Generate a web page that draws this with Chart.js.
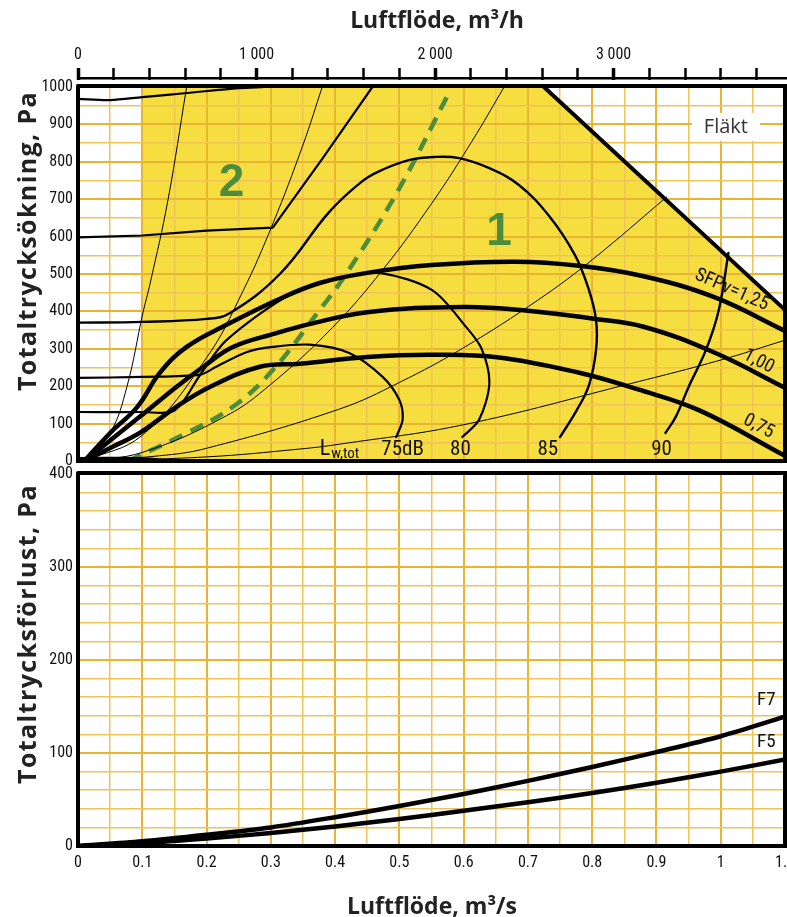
<!DOCTYPE html>
<html><head><meta charset="utf-8">
<script src="https://cdn.jsdelivr.net/npm/chart.js@4.4.0/dist/chart.umd.min.js"></script>
<style>
html,body{margin:0;padding:0;background:#fff;}
#wrap{position:relative;width:787px;height:917px;overflow:hidden;background:#fff;}
canvas{position:absolute;left:0;}
#c1{top:0;}
#c2{top:465px;}
.t{position:absolute;font-family:'Open Sans','Noto Sans',sans-serif;font-weight:700;font-size:23px;color:#222;white-space:nowrap;transform:translate(-50%,-50%);}
.v{transform:translate(-50%,-50%) rotate(-90deg);font-size:25px;letter-spacing:1.4px;}
</style></head><body>
<div id="wrap">
<canvas id="c1" width="787" height="465"></canvas>
<canvas id="c2" width="787" height="452"></canvas>
<div class="t" style="left:437px;top:19px;">Luftflöde, m³/h</div>
<div class="t" style="left:432px;top:905px;">Luftflöde, m³/s</div>
<div class="t v" style="left:26px;top:241px;">Totaltrycksökning, Pa</div>
<div class="t v" style="left:26px;top:634px;">Totaltrycksförlust, Pa</div>
</div>
<script>
// ---------- axis ranges & ticks ----------
const flowMax = 1.1;                 // m3/s
const flowHourMax = 3960;            // m3/h (= 1.1 m3/s)
const hourTicks = [0,200,400,600,800,1000,1200,1400,1600,1800,2000,2200,2400,2600,2800,3000,3200,3400,3600,3800];
const hourLabelValues = [0, 1000, 2000, 3000];
const hourLabelTexts = ['0', '1 000', '2 000', '3 000'];
const fanPressureMax = 1000;
const filterPressureMax = 400;

// ---------- fan diagram (top) ----------
const fanArea = [[0.1,0],[0.1,1000],[0.725,1000],[1.1,404],[1.1,0]];
const fanLimit = [[0.725,1000],[1.1,404]];

const sfp125 = [[0.01,0],[0.05,75],[0.092,144],[0.127,235],[0.169,305],[0.231,364],[0.309,430],[0.376,476],[0.45,503],[0.55,524],[0.68,533],[0.78,522],[0.88,494],[0.99,438],[1.1,348]];
const sfp100 = [[0.01,0],[0.05,55],[0.096,118],[0.153,198],[0.195,252],[0.241,305],[0.309,342],[0.36,366],[0.45,398],[0.6,412],[0.7,402],[0.8,381],[0.88,359],[0.99,290],[1.1,196]];
const sfp075 = [[0.01,0],[0.05,35],[0.096,75],[0.153,145],[0.205,198],[0.283,252],[0.345,260],[0.45,278],[0.55,284],[0.655,277],[0.78,236],[0.87,192],[0.966,136],[1.1,14]];

const systemA = [[0.01,0],[0.05,75],[0.076,198],[0.101,396],[0.112,473],[0.14,698],[0.169,1000]];
const systemB = [[0.01,0],[0.1,69],[0.2,276],[0.256,452],[0.303,634],[0.35,845],[0.38,1000]];
const systemC = [[0.01,0],[0.1,23],[0.231,121],[0.3,205],[0.396,357],[0.474,511],[0.55,688],[0.613,855],[0.663,1000]];
const systemD = [[0.01,0],[0.127,14],[0.2,34],[0.407,139],[0.5,210],[0.6,303],[0.717,432],[0.8,538],[0.916,706]];
const systemE = [[0.01,0],[0.2,11],[0.345,32],[0.407,45],[0.6,97],[0.862,208],[1.0,270],[1.1,323]];

const level75 = [[0,222],[0.1,225],[0.19,231],[0.215,252],[0.262,291],[0.303,305],[0.36,311],[0.422,289],[0.474,225],[0.5,163],[0.505,110],[0.495,64]];
const level80 = [[0,131],[0.1,131],[0.15,135],[0.19,230],[0.231,323],[0.334,449],[0.412,492],[0.469,503],[0.551,457],[0.604,358],[0.628,300],[0.64,208],[0.624,110],[0.598,64]];
const level85 = [[0,370],[0.1,372],[0.2,380],[0.236,395],[0.314,500],[0.391,666],[0.44,745],[0.469,775],[0.516,805],[0.554,813],[0.593,810],[0.64,783],[0.686,738],[0.733,655],[0.773,551],[0.795,457],[0.806,377],[0.806,297],[0.795,203],[0.776,136],[0.75,64]];
const level90 = [[1.012,556],[0.997,404],[0.977,297],[0.95,198],[0.93,118],[0.914,75]];

const limitTop = [[0,968],[0.05,965],[0.1,973],[0.17,984],[0.25,997],[0.29,1000]];
const limit600 = [[0,598],[0.1,603],[0.2,616],[0.303,624],[0.38,808],[0.458,1000]];
const limitLow = [[0,8],[0.1,8],[0.127,4],[0.17,0]];

const optimumLine = [[0.078,0],[0.169,75],[0.241,145],[0.303,243],[0.376,404],[0.412,487],[0.495,714],[0.578,987]];

// ---------- filter diagram (bottom) ----------
const filterF7 = [[0,0],[0.1,5],[0.2,12],[0.3,20],[0.4,31],[0.5,43],[0.6,56],[0.7,70],[0.8,85],[0.9,101],[1.0,118],[1.1,139]];
const filterF5 = [[0,0],[0.1,3],[0.2,8],[0.3,14],[0.4,21],[0.5,29],[0.6,38],[0.7,47],[0.8,57],[0.9,68],[1.0,80],[1.1,93]];

// ---------- styles ----------
const YELLOW = '#F7DE40';
const GRID_MAJOR = '#EAB433';
const GRID_MINOR = '#EFC357';
const GREEN = '#4C8C3C';
const NARROW = "'Roboto Condensed','Liberation Sans Narrow','DejaVu Sans Condensed','Noto Sans','Liberation Sans',sans-serif";
const TICK_FONT = {family:NARROW, size:16, weight:'normal condensed'};

const near = (v, step) => Math.abs(v/step - Math.round(v/step)) < 1e-6;
const pts = a => a.map(([x,y]) => ({x, y}));
function line(data, width, extra) {
  return Object.assign({data: pts(data), showLine:true, pointRadius:0, borderColor:'#000', borderWidth:width, fill:false, tension:0.4, borderCapStyle:'round', borderJoinStyle:'round'}, extra || {});
}
const xGrid = {color: c => near(c.tick.value, 0.1) ? GRID_MAJOR : GRID_MINOR, lineWidth: c => near(c.tick.value, 0.1) ? 2 : 1.5, drawTicks:false};
const fitX = h => s => { s.height = h; s.paddingLeft = 0; s.paddingRight = 0; };
const fitY = s => { s.width = 78; s.paddingTop = 0; s.paddingBottom = 0; };

function drawBorders(chart) {
  const {ctx, chartArea:a} = chart;
  ctx.save();
  ctx.strokeStyle = '#000'; ctx.lineWidth = 4; ctx.lineCap = 'round';
  ctx.beginPath();
  ctx.moveTo(a.left, a.top - 1); ctx.lineTo(a.left, a.bottom);
  ctx.lineTo(a.right, a.bottom); ctx.lineTo(a.right, a.top - 1); ctx.lineTo(a.left, a.top - 1);
  ctx.stroke();
  ctx.restore();
}
function drawLabel(chart, L) {
  const {ctx, scales} = chart;
  const px = scales.x.getPixelForValue(L.q), py = scales.y.getPixelForValue(L.p);
  ctx.save();
  ctx.translate(px, py);
  if (L.rot) ctx.rotate(L.rot * Math.PI / 180);
  ctx.font = L.font; ctx.fillStyle = L.color || '#111';
  ctx.textAlign = L.align || 'center'; ctx.textBaseline = 'middle';
  if (L.box) {
    const w = ctx.measureText(L.text).width;
    ctx.fillStyle = '#fff';
    ctx.fillRect(-w/2 - 12, -14, w + 24, 28);
    ctx.fillStyle = L.color || '#111';
  }
  ctx.fillText(L.text, 0, 0);
  if (L.sub) {
    const w = ctx.measureText(L.text).width;
    ctx.font = L.subFont; ctx.textAlign = 'left';
    ctx.fillText(L.sub, w + 1, 4);
  }
  ctx.restore();
}

const fanLabels = [
  {text:'2', q:0.239, p:743, font:"bold 46px 'Liberation Sans',Arial,sans-serif", color:GREEN},
  {text:'1', q:0.655, p:612, font:"bold 46px 'Liberation Sans',Arial,sans-serif", color:GREEN},
  {text:'Fläkt', q:1.008, p:893, font:"20px 'Open Sans','Noto Sans',sans-serif", color:'#333', box:true},
  {text:'SFPv=1,25', q:1.017, p:457, rot:24, font:"condensed 19px "+NARROW},
  {text:'1,00', q:1.059, p:266, rot:28, font:"condensed 19px "+NARROW},
  {text:'0,75', q:1.059, p:92, rot:28, font:"condensed 19px "+NARROW},
  {text:'L', q:0.376, p:30, align:'left', font:"condensed 22px "+NARROW, sub:'w,tot', subFont:"condensed 15px "+NARROW},
  {text:'75dB', q:0.505, p:30, font:"condensed 21px "+NARROW},
  {text:'80', q:0.595, p:30, font:"condensed 21px "+NARROW},
  {text:'85', q:0.731, p:30, font:"condensed 21px "+NARROW},
  {text:'90', q:0.908, p:30, font:"condensed 21px "+NARROW}
];
const filterLabels = [
  {text:'F7', q:1.071, p:157, font:"condensed 19px "+NARROW},
  {text:'F5', q:1.071, p:112, font:"condensed 19px "+NARROW}
];

const fanPlugin = {
  id:'fanDecor',
  beforeDraw(chart) {
    const {ctx, chartArea:a, scales:{x, y}} = chart;
    ctx.save();
    ctx.beginPath(); ctx.rect(a.left, a.top, a.right - a.left, a.bottom - a.top); ctx.clip();
    ctx.beginPath();
    fanArea.forEach(([q, p], i) => { const X = x.getPixelForValue(q), Y = y.getPixelForValue(p); i ? ctx.lineTo(X, Y) : ctx.moveTo(X, Y); });
    ctx.closePath(); ctx.fillStyle = YELLOW; ctx.fill();
    ctx.restore();
  },
  afterDatasetsDraw(chart) {
    const {ctx, chartArea:a} = chart;
    drawBorders(chart);
    ctx.save();
    ctx.fillStyle = '#fff'; ctx.fillRect(a.left - 3, a.top - 7, a.right - a.left + 6, 4);
    ctx.fillStyle = '#000'; ctx.fillRect(a.left - 1, a.top - 10, a.right - a.left + 3, 2.5);
    ctx.restore();
    fanLabels.forEach(L => drawLabel(chart, L));
  }
};
const filterPlugin = {
  id:'filterDecor',
  afterDatasetsDraw(chart) {
    drawBorders(chart);
    filterLabels.forEach(L => drawLabel(chart, L));
  }
};

new Chart(document.getElementById('c1'), {
  type:'scatter',
  data:{datasets:[
    line(systemA, 1), line(systemB, 1), line(systemC, 1), line(systemD, 1), line(systemE, 1),
    line(limitTop, 2.2, {tension:0.3}), line(limit600, 2.2, {tension:0}), line(limitLow, 2.2, {tension:0.3}),
    line(level75, 2.2, {tension:0.3}), line(level80, 2.2, {tension:0.3}), line(level85, 2.4, {tension:0.4}), line(level90, 2.4),
    line(sfp125, 4.5), line(sfp100, 4.5), line(sfp075, 4.5),
    line(fanLimit, 4, {tension:0}),
    line(optimumLine, 4.5, {borderColor:GREEN, borderDash:[14,9], borderCapStyle:'butt'})
  ]},
  options:{
    responsive:false, animation:false, devicePixelRatio:1,
    layout:{padding:{top:0, right:2, bottom:4, left:0}},
    plugins:{legend:{display:false}, tooltip:{enabled:false}},
    scales:{
      x:{type:'linear', position:'bottom', min:0, max:flowMax,
         ticks:{stepSize:0.05, display:false}, grid:xGrid, border:{display:false},
         afterFit:fitX(0)},
      x2:{type:'linear', position:'top', min:0, max:flowHourMax,
         afterBuildTicks:s => { s.ticks = hourTicks.map(v => ({value:v})); },
         ticks:{autoSkip:false, maxRotation:0, padding:3, font:TICK_FONT, color:'#111',
                callback:v => { const i = hourLabelValues.indexOf(v); return i >= 0 ? hourLabelTexts[i] : ''; }},
         grid:{drawOnChartArea:false, drawTicks:true, tickLength:19, tickColor:'#000',
               tickWidth:c => (c.tick && c.tick.value % 1000 === 0) ? 3.5 : 2.5},
         border:{display:false},
         afterFit:s => { s.height = 87; s.paddingLeft = 0; s.paddingRight = 0; }},
      y:{type:'linear', min:0, max:fanPressureMax,
         ticks:{stepSize:50, autoSkip:false, padding:5, font:TICK_FONT, color:'#111',
                callback:v => v % 100 === 0 ? String(v) : ''},
         grid:{color:c => c.tick.value % 100 === 0 ? GRID_MAJOR : GRID_MINOR, lineWidth:c => c.tick.value % 100 === 0 ? 2 : 1.5, drawTicks:false},
         border:{display:false},
         afterFit:fitY}
    }
  },
  plugins:[fanPlugin]
});

new Chart(document.getElementById('c2'), {
  type:'scatter',
  data:{datasets:[ line(filterF7, 4.5, {tension:0.3}), line(filterF5, 4.5, {tension:0.3}) ]},
  options:{
    responsive:false, animation:false, devicePixelRatio:1,
    layout:{padding:{top:9, right:2, bottom:0, left:0}},
    plugins:{legend:{display:false}, tooltip:{enabled:false}},
    scales:{
      x:{type:'linear', position:'bottom', min:0, max:flowMax,
         ticks:{stepSize:0.05, autoSkip:false, maxRotation:0, padding:7, font:TICK_FONT, color:'#111',
                callback:v => near(v, 0.1) ? String(Math.round(v*10)/10) : ''},
         grid:xGrid, border:{display:false},
         afterFit:fitX(71)},
      y:{type:'linear', min:0, max:filterPressureMax,
         ticks:{stepSize:20, autoSkip:false, padding:5, font:TICK_FONT, color:'#111',
                callback:v => v % 100 === 0 ? String(v) : ''},
         grid:{color:c => c.tick.value % 100 === 0 ? GRID_MAJOR : GRID_MINOR, lineWidth:c => c.tick.value % 100 === 0 ? 2 : 1.5, drawTicks:false},
         border:{display:false},
         afterFit:fitY}
    }
  },
  plugins:[filterPlugin]
});
</script>
</body></html>
